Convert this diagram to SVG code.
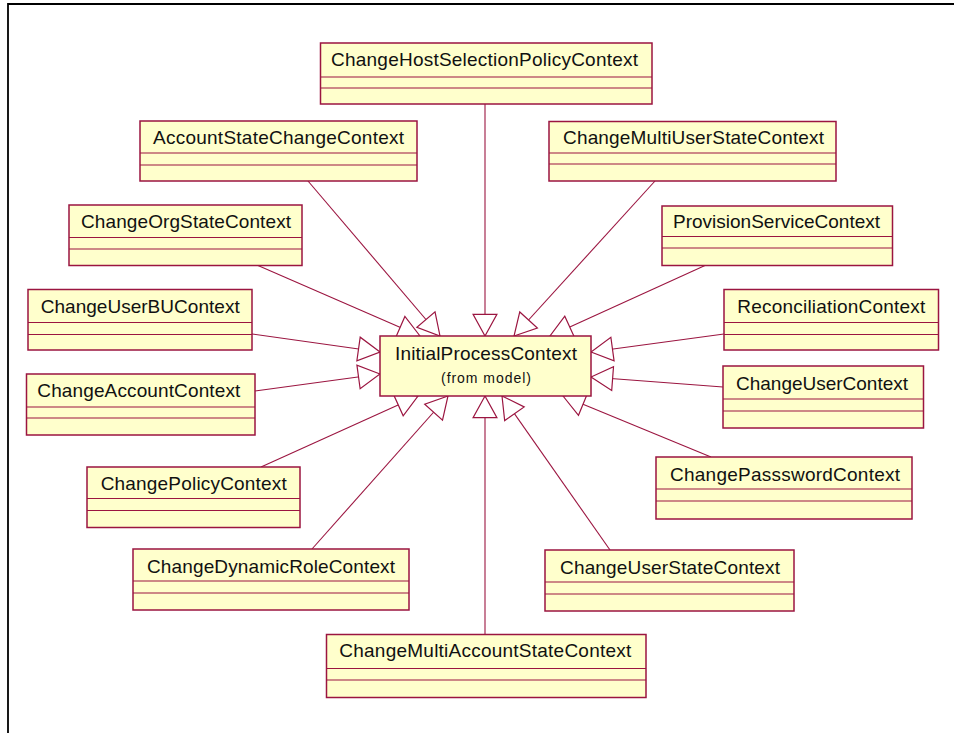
<svg xmlns="http://www.w3.org/2000/svg" width="954" height="733" viewBox="0 0 954 733">
<defs>
<style>
.box{fill:#ffffcc;stroke:#9b1540;stroke-width:1.5}
.div{stroke:#9b1540;stroke-width:1.2}
.lbl{font-family:"Liberation Sans",Arial,sans-serif;font-size:19px;fill:#111}
.sub{font-family:"Liberation Sans",Arial,sans-serif;font-size:14px;fill:#111}
.con{stroke:#9b1540;stroke-width:1.1;fill:none;marker-end:url(#tri)}
</style>
<marker id="tri" markerUnits="userSpaceOnUse" markerWidth="26" markerHeight="26" viewBox="-21 -12 22 24" refX="0" refY="0" orient="auto" overflow="visible">
<path d="M0,0 L-20,-11 L-20,11 Z" fill="#ffffff" stroke="#9b1540" stroke-width="1.1"/>
</marker>
</defs>
<rect x="0" y="0" width="954" height="733" fill="#ffffff"/>
<path d="M8,740 L8,4 L960,4" fill="none" stroke="#000" stroke-width="1.8"/>

<g id="connectors">
<line class="con" x1="485" y1="104" x2="485" y2="336"/>
<line class="con" x1="308" y1="181" x2="440" y2="336"/>
<line class="con" x1="655" y1="181" x2="514" y2="336"/>
<line class="con" x1="258" y1="265.5" x2="420" y2="336"/>
<line class="con" x1="705" y1="265.5" x2="550" y2="336"/>
<line class="con" x1="252" y1="334" x2="380" y2="352"/>
<line class="con" x1="255" y1="391" x2="380" y2="374"/>
<line class="con" x1="724" y1="334" x2="591" y2="352"/>
<line class="con" x1="723" y1="387" x2="591" y2="377"/>
<line class="con" x1="261" y1="467" x2="418" y2="396"/>
<line class="con" x1="711" y1="457" x2="563" y2="396"/>
<line class="con" x1="312" y1="549" x2="448" y2="396"/>
<line class="con" x1="610" y1="550" x2="502" y2="396"/>
<line class="con" x1="485" y1="634.5" x2="485" y2="396"/>
</g>

<g id="InitialProcessContext">
<rect class="box" x="380" y="336" width="211" height="60"/>
<text class="lbl" x="395" y="360" textLength="182" lengthAdjust="spacing">InitialProcessContext</text>
<text class="sub" x="441" y="382.5" textLength="90" lengthAdjust="spacing">(from model)</text>
</g>

<g id="ChangeHostSelectionPolicyContext">
<rect class="box" x="320.5" y="43" width="331.5" height="61"/>
<line class="div" x1="320.5" y1="77" x2="652" y2="77"/><line class="div" x1="320.5" y1="88" x2="652" y2="88"/>
<text class="lbl" x="331" y="66" textLength="307" lengthAdjust="spacing">ChangeHostSelectionPolicyContext</text>
</g>

<g id="AccountStateChangeContext">
<rect class="box" x="140" y="121" width="277" height="60"/>
<line class="div" x1="140" y1="153" x2="417" y2="153"/><line class="div" x1="140" y1="165" x2="417" y2="165"/>
<text class="lbl" x="153" y="143.5" textLength="251" lengthAdjust="spacing">AccountStateChangeContext</text>
</g>

<g id="ChangeMultiUserStateContext">
<rect class="box" x="549" y="121.5" width="287" height="59.5"/>
<line class="div" x1="549" y1="153" x2="836" y2="153"/><line class="div" x1="549" y1="164" x2="836" y2="164"/>
<text class="lbl" x="563" y="143.5" textLength="261" lengthAdjust="spacing">ChangeMultiUserStateContext</text>
</g>

<g id="ChangeOrgStateContext">
<rect class="box" x="69" y="205" width="233" height="60.5"/>
<line class="div" x1="69" y1="237.5" x2="302" y2="237.5"/><line class="div" x1="69" y1="249" x2="302" y2="249"/>
<text class="lbl" x="81" y="228" textLength="210" lengthAdjust="spacing">ChangeOrgStateContext</text>
</g>

<g id="ProvisionServiceContext">
<rect class="box" x="662" y="206" width="230.5" height="59.5"/>
<line class="div" x1="662" y1="236.5" x2="892.5" y2="236.5"/><line class="div" x1="662" y1="248" x2="892.5" y2="248"/>
<text class="lbl" x="673" y="228" textLength="207" lengthAdjust="spacing">ProvisionServiceContext</text>
</g>

<g id="ChangeUserBUContext">
<rect class="box" x="28" y="289.5" width="224" height="60.5"/>
<line class="div" x1="28" y1="322.5" x2="252" y2="322.5"/><line class="div" x1="28" y1="334.5" x2="252" y2="334.5"/>
<text class="lbl" x="40.7" y="313" textLength="199" lengthAdjust="spacing">ChangeUserBUContext</text>
</g>

<g id="ChangeAccountContext">
<rect class="box" x="26.5" y="374" width="228.5" height="61"/>
<line class="div" x1="26.5" y1="407" x2="255" y2="407"/><line class="div" x1="26.5" y1="418" x2="255" y2="418"/>
<text class="lbl" x="37.3" y="397" textLength="203" lengthAdjust="spacing">ChangeAccountContext</text>
</g>

<g id="ReconciliationContext">
<rect class="box" x="724" y="289.5" width="214.5" height="60.5"/>
<line class="div" x1="724" y1="322.5" x2="938.5" y2="322.5"/><line class="div" x1="724" y1="334.5" x2="938.5" y2="334.5"/>
<text class="lbl" x="737.3" y="313" textLength="188" lengthAdjust="spacing">ReconciliationContext</text>
</g>

<g id="ChangeUserContext">
<rect class="box" x="723" y="366" width="200.5" height="62"/>
<line class="div" x1="723" y1="399" x2="923.5" y2="399"/><line class="div" x1="723" y1="411" x2="923.5" y2="411"/>
<text class="lbl" x="736" y="390" textLength="172" lengthAdjust="spacing">ChangeUserContext</text>
</g>

<g id="ChangePolicyContext">
<rect class="box" x="87" y="467" width="213" height="60.5"/>
<line class="div" x1="87" y1="498.5" x2="300" y2="498.5"/><line class="div" x1="87" y1="510.5" x2="300" y2="510.5"/>
<text class="lbl" x="100.7" y="490" textLength="186" lengthAdjust="spacing">ChangePolicyContext</text>
</g>

<g id="ChangePassswordContext">
<rect class="box" x="656" y="457" width="256" height="62"/>
<line class="div" x1="656" y1="489" x2="912" y2="489"/><line class="div" x1="656" y1="501" x2="912" y2="501"/>
<text class="lbl" x="670" y="481" textLength="230" lengthAdjust="spacing">ChangePassswordContext</text>
</g>

<g id="ChangeDynamicRoleContext">
<rect class="box" x="133" y="549" width="276" height="61"/>
<line class="div" x1="133" y1="581" x2="409" y2="581"/><line class="div" x1="133" y1="593" x2="409" y2="593"/>
<text class="lbl" x="147" y="573" textLength="248" lengthAdjust="spacing">ChangeDynamicRoleContext</text>
</g>

<g id="ChangeUserStateContext">
<rect class="box" x="545" y="550" width="249" height="61"/>
<line class="div" x1="545" y1="582" x2="794" y2="582"/><line class="div" x1="545" y1="594" x2="794" y2="594"/>
<text class="lbl" x="560" y="574" textLength="220" lengthAdjust="spacing">ChangeUserStateContext</text>
</g>

<g id="ChangeMultiAccountStateContext">
<rect class="box" x="326.5" y="634.5" width="319.5" height="63"/>
<line class="div" x1="326.5" y1="668.5" x2="646" y2="668.5"/><line class="div" x1="326.5" y1="680" x2="646" y2="680"/>
<text class="lbl" x="339.3" y="657" textLength="292" lengthAdjust="spacing">ChangeMultiAccountStateContext</text>
</g>
</svg>
